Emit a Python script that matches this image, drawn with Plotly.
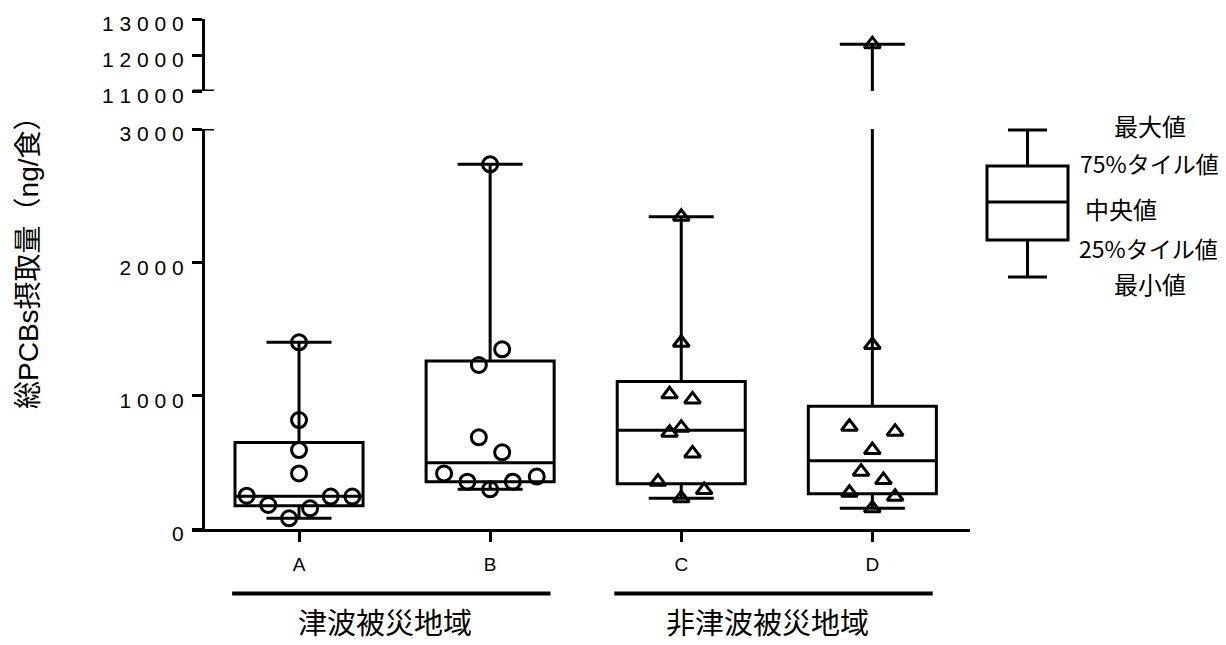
import numpy as np
import plotly.graph_objects as go

# ---------------- data ----------------
categories = ["A", "B", "C", "D"]
values_A = [1400, 817, 592, 417, 250, 180, 80, 155, 243, 243]
values_B = [2735, 1348, 1230, 688, 575, 417, 355, 298, 355, 393]
values_C = [2342, 1397, 1010, 972, 760, 722, 567, 355, 292, 230]
values_D = [12300, 1380, 767, 730, 592, 430, 367, 272, 242, 155]

# horizontal swarm offsets of the dots (category units)
swarm_A = [0, 0, 0, 0, -0.274, -0.161, -0.052, 0.058, 0.166, 0.279]
swarm_B = [0, 0.063, -0.059, -0.059, 0.063, -0.241, -0.119, 0, 0.119, 0.244]
swarm_C = [0, 0, -0.061, 0.059, 0, -0.061, 0.059, -0.122, 0.12, 0]
swarm_D = [0, 0, -0.12, 0.119, 0, -0.059, 0.058, -0.12, 0.119, 0]

group_labels = ["津波被災地域", "非津波被災地域"]
group_members = [[0, 1], [2, 3]]

lower_ticks = [0, 1000, 2000, 3000]
upper_ticks = [11000, 12000, 13000]
legend_labels = ["最大値", "75%タイル値", "中央値", "25%タイル値", "最小値"]
y_title = "総PCBs摂取量（ng/食）"

# ---------------- helpers ----------------
# page body margin is removed (post_script), so the figure fills the window
W, H = 1226, 645
def px(x):
    return x / W
def py(y):
    return 1 - y / H

series = [values_A, values_B, values_C, values_D]
swarms = [swarm_A, swarm_B, swarm_C, swarm_D]
symbols = ["circle-open", "circle-open", "triangle-up-open", "triangle-up-open"]
sizes = [15, 15, 14, 14]

# Prism-style quartiles (n+1 basis)
q1, med, q3, lo, hi = [], [], [], [], []
for v in series:
    a = np.array(v, dtype=float)
    p = np.percentile(a, [25, 50, 75], method="weibull")
    q1.append(p[0]); med.append(p[1]); q3.append(p[2])
    lo.append(a.min()); hi.append(a.max())

FONT = "Liberation Sans, Arial, Noto Sans CJK JP"
JFONT = "Noto Sans CJK JP, Noto Sans CJK SC, sans-serif"

fig = go.Figure()
for yax in ["y", "y2"]:
    fig.add_trace(go.Box(
        x=list(range(len(categories))), q1=q1, median=med, q3=q3,
        lowerfence=lo, upperfence=hi,
        width=0.67, whiskerwidth=0.508,
        line=dict(color="black", width=3), fillcolor="rgba(0,0,0,0)",
        boxpoints=False, hoverinfo="skip", showlegend=False,
        xaxis="x", yaxis=yax,
    ))
    for i, (v, s) in enumerate(zip(series, swarms)):
        fig.add_trace(go.Scatter(
            x=[i + o for o in s], y=v, mode="markers",
            marker=dict(symbol=symbols[i], size=sizes[i], color="black",
                        line=dict(width=3, color="black")),
            showlegend=False, hoverinfo="skip", cliponaxis=True,
            xaxis="x", yaxis=yax,
        ))

def spaced(v):
    return " ".join(str(v))

axis_common = dict(
    showline=True, linecolor="black", linewidth=3,
    ticks="outside", ticklen=10, tickwidth=3, tickcolor="black",
    showgrid=False, zeroline=False, automargin=False,
    ticklabelshift=5, ticklabelstandoff=4, ticklabeloverflow="allow",
    tickfont=dict(family=FONT, size=21, color="black"),
)

fig.update_layout(
    width=W, height=H,
    margin=dict(l=0, r=0, t=0, b=0, pad=0),
    paper_bgcolor="white", plot_bgcolor="white",
    xaxis=dict(
        domain=[px(192), px(970)], range=[-0.56, 3.511],
        tickvals=list(range(len(categories))), ticktext=categories,
        showline=True, linecolor="black", linewidth=3,
        ticks="outside", ticklen=10, tickwidth=3, tickcolor="black",
        showgrid=False, zeroline=False, anchor="y", automargin=False,
        ticklabelstandoff=6,
        tickfont=dict(family=FONT, size=19, color="black"),
    ),
    yaxis=dict(
        domain=[py(529), py(129)], range=[0, 3000],
        tickvals=lower_ticks, ticktext=[spaced(t) for t in lower_ticks],
        anchor="free", position=px(203), **axis_common,
    ),
    yaxis2=dict(
        domain=[py(91), py(19)], range=[11000, 13000],
        tickvals=upper_ticks, ticktext=[spaced(t) for t in upper_ticks],
        anchor="free", position=px(203), **axis_common,
    ),
)

shapes = []
# axis break marks
shapes.append(dict(type="line", xref="paper", yref="y", x0=px(193), x1=px(214),
                   y0=lower_ticks[-1], y1=lower_ticks[-1], line=dict(color="black", width=3)))
shapes.append(dict(type="line", xref="paper", yref="y2", x0=px(193), x1=px(214),
                   y0=upper_ticks[0], y1=upper_ticks[0], line=dict(color="black", width=3)))

annotations = []
# group bars and labels
for lab, mem in zip(group_labels, group_members):
    shapes.append(dict(type="line", xref="x", yref="paper",
                       x0=mem[0] - 0.35, x1=mem[-1] + 0.316, y0=py(593.5), y1=py(593.5),
                       line=dict(color="black", width=4)))
    annotations.append(dict(xref="x", yref="paper", x=float(np.mean(mem)) - 0.05, y=py(621),
                            text=lab, showarrow=False, xanchor="center", yanchor="middle",
                            font=dict(family=JFONT, size=29, color="black")))

# y-axis title
annotations.append(dict(xref="paper", yref="paper", x=px(28), y=py(256), text=y_title,
                        textangle=-90, showarrow=False, xanchor="center", yanchor="middle",
                        font=dict(family=FONT, size=28, color="black")))

# key diagram
key_line = dict(color="black", width=3)
cx = 1027.5
shapes += [
    dict(type="line", xref="paper", yref="paper", x0=px(1008), x1=px(1047), y0=py(130), y1=py(130), line=key_line),
    dict(type="line", xref="paper", yref="paper", x0=px(cx), x1=px(cx), y0=py(130), y1=py(166), line=key_line),
    dict(type="rect", xref="paper", yref="paper", x0=px(987), x1=px(1068), y0=py(166), y1=py(240), line=key_line),
    dict(type="line", xref="paper", yref="paper", x0=px(987), x1=px(1068), y0=py(202), y1=py(202), line=key_line),
    dict(type="line", xref="paper", yref="paper", x0=px(cx), x1=px(cx), y0=py(240), y1=py(277), line=key_line),
    dict(type="line", xref="paper", yref="paper", x0=px(1008), x1=px(1047), y0=py(277), y1=py(277), line=key_line),
]
key_pos = [(1150, 125, "center"), (1149, 163, "center"), (1083, 209, "left"),
           (1148, 248, "center"), (1150, 284, "center")]
for lab, (x, y, anc) in zip(legend_labels, key_pos):
    annotations.append(dict(xref="paper", yref="paper", x=px(x), y=py(y), text=lab,
                            showarrow=False, xanchor=anc, yanchor="middle",
                            font=dict(family=JFONT, size=24 if len(lab) == 3 else 23, color="black")))

fig.update_layout(shapes=shapes, annotations=annotations)
fig.write_html("out.html",
               config={"displayModeBar": False},
               post_script="document.body.style.margin='0';document.body.style.overflow='hidden';")
